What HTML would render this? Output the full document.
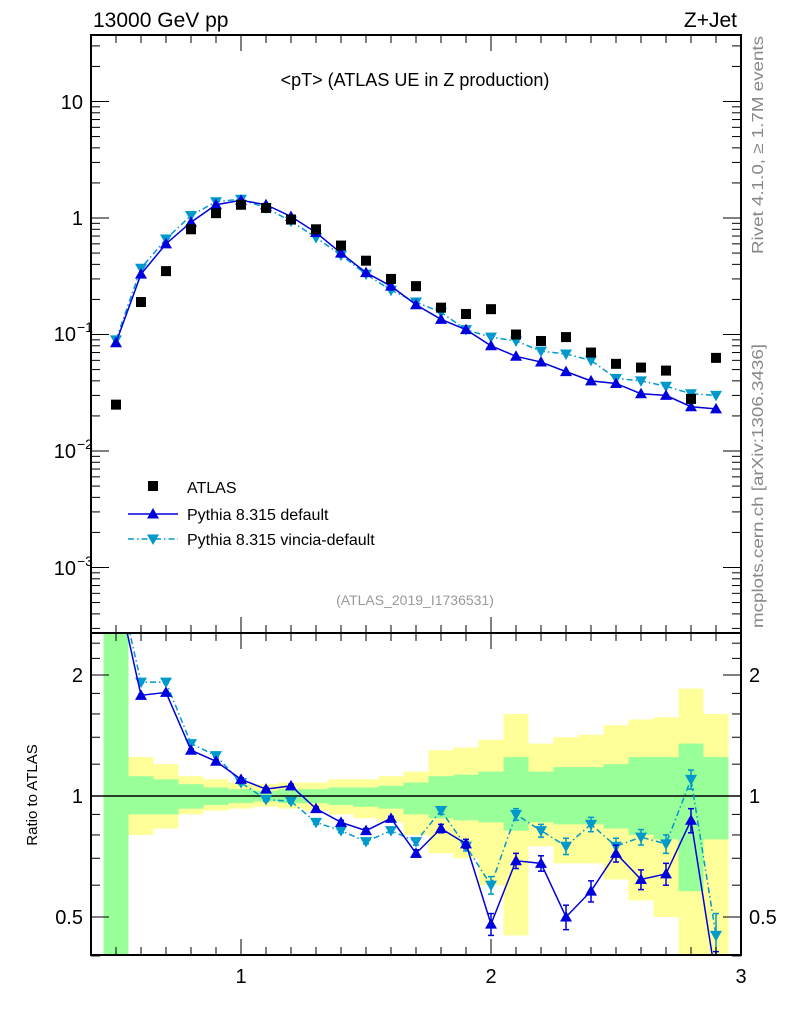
<!DOCTYPE html>
<html><head><meta charset="utf-8"><style>
body{margin:0;background:#fff;}
svg{display:block;font-family:"Liberation Sans",sans-serif;}
</style></head><body>
<svg id="c" width="786" height="1024" viewBox="0 0 786 1024">
<g id="bands"></g><g id="plot"></g><g id="axes"></g>
</svg>
<script>
const xs=[0.5,0.6,0.7,0.8,0.9,1.0,1.1,1.2,1.3,1.4,1.5,1.6,1.7,1.8,1.9,2.0,2.1,2.2,2.3,2.4,2.5,2.6,2.7,2.8,2.9];
const atlas=[0.025,0.19,0.35,0.8,1.1,1.3,1.22,0.97,0.8,0.58,0.43,0.3,0.26,0.17,0.15,0.165,0.1,0.088,0.095,0.07,0.056,0.052,0.049,0.028,0.063];
const pyDef=[0.085,0.33,0.6,0.92,1.3,1.42,1.3,1.03,0.75,0.5,0.34,0.26,0.18,0.135,0.11,0.08,0.065,0.058,0.048,0.04,0.038,0.031,0.03,0.024,0.023];
const pyVin=[0.09,0.37,0.66,1.05,1.38,1.45,1.22,0.94,0.68,0.48,0.33,0.24,0.19,0.155,0.11,0.095,0.088,0.072,0.068,0.06,0.042,0.04,0.036,0.031,0.03];
const rDef=[3.4,1.78,1.81,1.3,1.22,1.1,1.04,1.06,0.93,0.86,0.82,0.88,0.72,0.83,0.76,0.48,0.69,0.68,0.5,0.58,0.72,0.62,0.64,0.87,0.35];
const rVin=[3.6,1.92,1.92,1.35,1.26,1.08,0.98,0.97,0.86,0.82,0.77,0.82,0.77,0.92,0.75,0.6,0.9,0.82,0.75,0.85,0.75,0.79,0.76,1.1,0.45];
const rErr=[0,0.01,0.01,0.01,0.01,0.01,0.01,0.01,0.01,0.01,0.01,0.01,0.015,0.02,0.02,0.03,0.03,0.03,0.035,0.035,0.035,0.035,0.04,0.06,0.06];
const yelUp=[3,1.25,1.2,1.12,1.1,1.08,1.07,1.08,1.08,1.1,1.1,1.12,1.15,1.3,1.32,1.38,1.6,1.35,1.4,1.42,1.5,1.55,1.57,1.85,1.6];
const yelDn=[0.3,0.8,0.83,0.9,0.92,0.93,0.94,0.93,0.92,0.9,0.88,0.86,0.8,0.72,0.7,0.6,0.45,0.75,0.68,0.68,0.62,0.55,0.5,0.3,0.3];
const grnUp=[3,1.12,1.1,1.07,1.05,1.04,1.03,1.04,1.04,1.05,1.05,1.06,1.08,1.12,1.13,1.15,1.25,1.15,1.18,1.18,1.2,1.25,1.25,1.35,1.25];
const grnDn=[0.3,0.9,0.9,0.93,0.95,0.96,0.97,0.96,0.96,0.95,0.94,0.93,0.9,0.88,0.87,0.86,0.82,0.86,0.85,0.85,0.83,0.8,0.78,0.58,0.78];

const NS="http://www.w3.org/2000/svg";
const L=91,R=741,T=35,M=633,B=955;
const X=v=>L+(v-0.4)/2.6*(R-L);
const Y=v=>218-116.5*Math.log10(v);
const YR=v=>796-121*Math.log2(v);
function mk(p,tag,a){const e=document.createElementNS(NS,tag);for(const k in a)e.setAttribute(k,a[k]);p.appendChild(e);return e;}
const gb=document.getElementById('bands'),gp=document.getElementById('plot'),ga=document.getElementById('axes');
const defs=mk(gp,'defs',{});
const cp1=mk(defs,'clipPath',{id:'cm'});mk(cp1,'rect',{x:L,y:T,width:R-L,height:M-T});
const cp2=mk(defs,'clipPath',{id:'cr'});mk(cp2,'rect',{x:L,y:M,width:R-L,height:B-M});
gb.setAttribute('clip-path','url(#cr)');
xs.forEach((x,i)=>{
 const x0=X(x-0.05),w=X(x+0.05)-x0;
 let r=mk(gb,'rect',{x:x0,y:YR(yelUp[i]),width:w,height:YR(yelDn[i])-YR(yelUp[i]),fill:'#ffff99'});
 
 
 r=mk(gb,'rect',{x:x0,y:YR(grnUp[i]),width:w,height:YR(grnDn[i])-YR(grnUp[i]),fill:'#99ff99'});
 
 
});
mk(gb,'line',{x1:L,x2:R,y1:YR(1),y2:YR(1),stroke:'#000','stroke-width':1.5});
const gm=mk(gp,'g',{'clip-path':'url(#cm)'}),gr=mk(gp,'g',{'clip-path':'url(#cr)'});
function tri(g,x,y,up,col,name){const s=6;const pts=up?`${x-s},${y+4.5} ${x+s},${y+4.5} ${x},${y-6}`:`${x-s},${y-4.5} ${x+s},${y-4.5} ${x},${y+6}`;const p=mk(g,'polygon',{points:pts,fill:col});
 
 }
function series(g,vals,fy,col,dash,up,name,err){
 const pl=mk(g,'polyline',{points:xs.map((x,i)=>X(x)+','+fy(vals[i])).join(' '),fill:'none',stroke:col,'stroke-width':1.5});
 if(dash)pl.setAttribute('stroke-dasharray','6,3,1.5,3');
 
 
 xs.forEach((x,i)=>{
  if(err&&err[i]>0){const e=err[i];mk(g,'line',{x1:X(x),x2:X(x),y1:fy(vals[i]+e),y2:fy(vals[i]-e),stroke:col,'stroke-width':1.5});
   [vals[i]+e,vals[i]-e].forEach(v=>mk(g,'line',{x1:X(x)-3,x2:X(x)+3,y1:fy(v),y2:fy(v),stroke:col,'stroke-width':1.5}));}
  tri(g,X(x),fy(vals[i]),up,col,name+'-marker');});
}
series(gm,pyVin,Y,'#0099cc',true,false,'vincia');
series(gm,pyDef,Y,'#0000dd',false,true,'pythia-default');
xs.forEach((x,i)=>{const r=mk(gm,'rect',{x:X(x)-5,y:Y(atlas[i])-5,width:10,height:10,fill:'#000'});
 
 });
series(gr,rVin,YR,'#0099cc',true,false,'vincia-ratio',rErr);
series(gr,rDef,YR,'#0000dd',false,true,'default-ratio',rErr);
[[T,M],[M,B]].forEach(([a,b])=>mk(ga,'rect',{x:L,y:a,width:R-L,height:b-a,fill:'none',stroke:'#000','stroke-width':2}));
function txt(x,y,s,o){const t=mk(ga,'text',Object.assign({x:x,y:y,'font-size':20},o||{}));t.textContent=s;return t;}
for(let v=0.4;v<=3.001;v+=0.1){const big=Math.abs(v-Math.round(v))<1e-6;const h=big?16:8;
 mk(ga,'line',{x1:X(v),x2:X(v),y1:T,y2:T+h,stroke:'#000'});
 mk(ga,'line',{x1:X(v),x2:X(v),y1:M,y2:M-h,stroke:'#000'});
 mk(ga,'line',{x1:X(v),x2:X(v),y1:M,y2:M+h,stroke:'#000'});
 mk(ga,'line',{x1:X(v),x2:X(v),y1:B,y2:B-h,stroke:'#000'});}
[1,2,3].forEach(v=>{const t=txt(X(v),983,String(v),{'text-anchor':'middle'});
 
 });
for(let d=-4;d<=1;d++){for(let k=1;k<10;k++){const v=k*Math.pow(10,d);const y=Y(v);if(y<T||y>M)continue;const h=k==1?18:9;
 mk(ga,'line',{x1:L,x2:L+h,y1:y,y2:y,stroke:'#000'});mk(ga,'line',{x1:R,x2:R-h,y1:y,y2:y,stroke:'#000'});}}
txt(83,109,'10',{'text-anchor':'end'});txt(83,225,'1',{'text-anchor':'end'});
const lab=(y,e)=>{const t=mk(ga,'text',{x:76,y:y,'font-size':20,'text-anchor':'end'});t.textContent='10';const s=mk(ga,'text',{x:77,y:y-9,'font-size':14});s.textContent=e;};
lab(341,'−1');lab(458,'−2');lab(575,'−3');
[0.4,0.5,0.6,0.7,0.8,0.9,1,1.2,1.4,1.6,1.8,2,2.2,2.4].forEach(v=>{const y=YR(v);const h=(v==0.5||v==1||v==2)?18:9;
 mk(ga,'line',{x1:L,x2:L+h,y1:y,y2:y,stroke:'#000'});mk(ga,'line',{x1:R,x2:R-h,y1:y,y2:y,stroke:'#000'});});
[[2,'2'],[1,'1'],[0.5,'0.5']].forEach(([v,s])=>{txt(83,YR(v)+7,s,{'text-anchor':'end'});txt(749,YR(v)+7,s);});
let t=txt(0,0,'Ratio to ATLAS',{'font-size':15,'text-anchor':'middle',transform:'translate(37,795) rotate(-90)'});


txt(93,27,'13000 GeV pp',{'font-size':21});
txt(737,27,'Z+Jet',{'font-size':21,'text-anchor':'end'});
txt(415,86,'<pT> (ATLAS UE in Z production)',{'font-size':18,'text-anchor':'middle'});
txt(415,605,'(ATLAS_2019_I1736531)',{'font-size':14,'text-anchor':'middle',fill:'#999'});
txt(0,0,'Rivet 4.1.0, ≥ 1.7M events',{'font-size':16,fill:'#888','text-anchor':'middle',textLength:218,lengthAdjust:'spacingAndGlyphs',transform:'translate(763,145) rotate(-90)'});
txt(0,0,'mcplots.cern.ch [arXiv:1306.3436]',{'font-size':16,fill:'#888','text-anchor':'middle',textLength:284,lengthAdjust:'spacingAndGlyphs',transform:'translate(763,486) rotate(-90)'});
mk(ga,'rect',{x:148,y:481,width:10,height:10,fill:'#000'});txt(187,493,'ATLAS',{'font-size':16});
mk(ga,'line',{x1:128,x2:178,y1:514,y2:514,stroke:'#0000dd','stroke-width':1.5});tri(ga,153,514,true,'#0000dd','legend-marker');
txt(187,520,'Pythia 8.315 default',{'font-size':16});
mk(ga,'line',{x1:128,x2:178,y1:539,y2:539,stroke:'#0099cc','stroke-width':1.5,'stroke-dasharray':'6,3,1.5,3'});tri(ga,153,539,false,'#0099cc','legend-marker');
txt(187,545,'Pythia 8.315 vincia-default',{'font-size':16});
</script>
</body></html>
